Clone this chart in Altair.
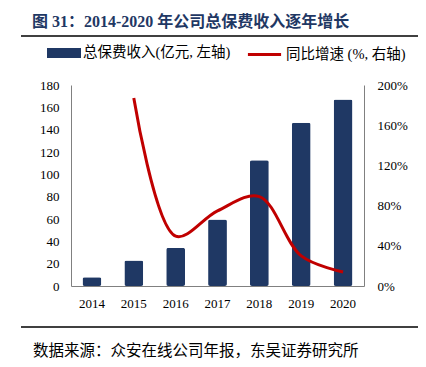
import altair as alt
import pandas as pd

years = ["2014", "2015", "2016", "2017", "2018", "2019", "2020"]
premium = [7.9, 22.8, 34.1, 59.6, 112.6, 146.3, 167.0]
growth_years = ["2015", "2016", "2017", "2018", "2019", "2020"]
growth = [187.0, 49.6, 74.8, 89.0, 30.0, 14.0]

bar_label = "总保费收入(亿元, 左轴)"
line_label = "同比增速 (%, 右轴)"
title_text = "图 31：2014-2020 年公司总保费收入逐年增长"
source_text = "数据来源：众安在线公司年报，东吴证券研究所"

NAVY = "#1F3864"
RED = "#C00000"
FONT = "'Liberation Serif', 'Times New Roman', serif"
CJK = "'Liberation Serif', 'Noto Sans CJK SC', serif"

bars_df = pd.DataFrame({"year": years, "value": premium, "series": bar_label})
line_df = pd.DataFrame({"year": growth_years, "g": growth, "series2": line_label})
one = pd.DataFrame({"a": [0]})

xscale = alt.Scale(domain=years, paddingInner=0.55, paddingOuter=0.275)
xaxis = alt.Axis(title=None, labelAngle=0, ticks=False, labelPadding=11,
                 labelFontSize=13, labelFont=FONT, labelColor="#000",
                 domainColor="#808080")

bars = alt.Chart(bars_df).mark_bar(cornerRadius=2).encode(
    x=alt.X("year:N", scale=xscale, axis=xaxis),
    y=alt.Y("value:Q", scale=alt.Scale(domain=[0, 180], nice=False),
            axis=alt.Axis(title=None, values=list(range(0, 181, 20)), ticks=False,
                          labelPadding=12, labelFontSize=13, labelFont=FONT,
                          labelColor="#000", domainColor="#808080", grid=False)),
    color=alt.Color("series:N", scale=alt.Scale(domain=[bar_label], range=[NAVY]),
                    legend=alt.Legend(orient="none", legendX=-17, legendY=-42, title=None,
                                      symbolType="M-1.7,-0.5H1.7V0.5H-1.7Z", symbolSize=400,
                                      symbolStrokeWidth=0, labelOffset=9,
                                      labelFontSize=14.5, labelFont=CJK, labelColor="#000")),
)

line = alt.Chart(line_df).mark_line(strokeWidth=3, interpolate="catmull-rom").encode(
    x=alt.X("year:N", scale=xscale, axis=xaxis),
    y=alt.Y("g:Q", scale=alt.Scale(domain=[0, 200], nice=False),
            axis=alt.Axis(title=None, orient="right", values=[0, 40, 80, 120, 160, 200],
                          labelExpr="datum.value + '%'", ticks=False, labelPadding=13,
                          labelFontSize=13, labelFont=FONT, labelColor="#000",
                          domainColor="#808080", grid=False)),
    stroke=alt.Stroke("series2:N", scale=alt.Scale(domain=[line_label], range=[RED]),
                      legend=alt.Legend(orient="none", legendX=175, legendY=-49, title=None,
                                        symbolType="stroke", symbolSize=1100,
                                        symbolStrokeWidth=3, labelOffset=3,
                                        labelFontSize=14.5, labelFont=CJK, labelColor="#000")),
)

top_rule = alt.Chart(one).mark_rule(color="#000", strokeWidth=1.5).encode(
    x=alt.value(-50), x2=alt.value(353), y=alt.value(-49))
bottom_rule = alt.Chart(one).mark_rule(color="#000", strokeWidth=1.5).encode(
    x=alt.value(-50), x2=alt.value(353), y=alt.value(242))
title = alt.Chart(one).mark_text(align="left", baseline="alphabetic", fontSize=16,
                                 fontWeight="bold", font=CJK, color=NAVY).encode(
    x=alt.value(-39), y=alt.value(-58), text=alt.value(title_text))
source = alt.Chart(one).mark_text(align="left", baseline="middle", fontSize=15.5,
                                  font=CJK, color="#000").encode(
    x=alt.value(-38), y=alt.value(266), text=alt.value(source_text))

chart = alt.layer(bars, line, top_rule, bottom_rule, title, source).resolve_scale(
    y="independent", color="independent", stroke="independent"
).properties(
    width=293, height=201,
    autosize=alt.AutoSizeParams(type="none"),
    padding={"left": 63, "top": 77, "right": 54, "bottom": 80},
).configure_view(stroke=None)

chart.save("out.html", embed_options={"renderer": "svg", "actions": False})
